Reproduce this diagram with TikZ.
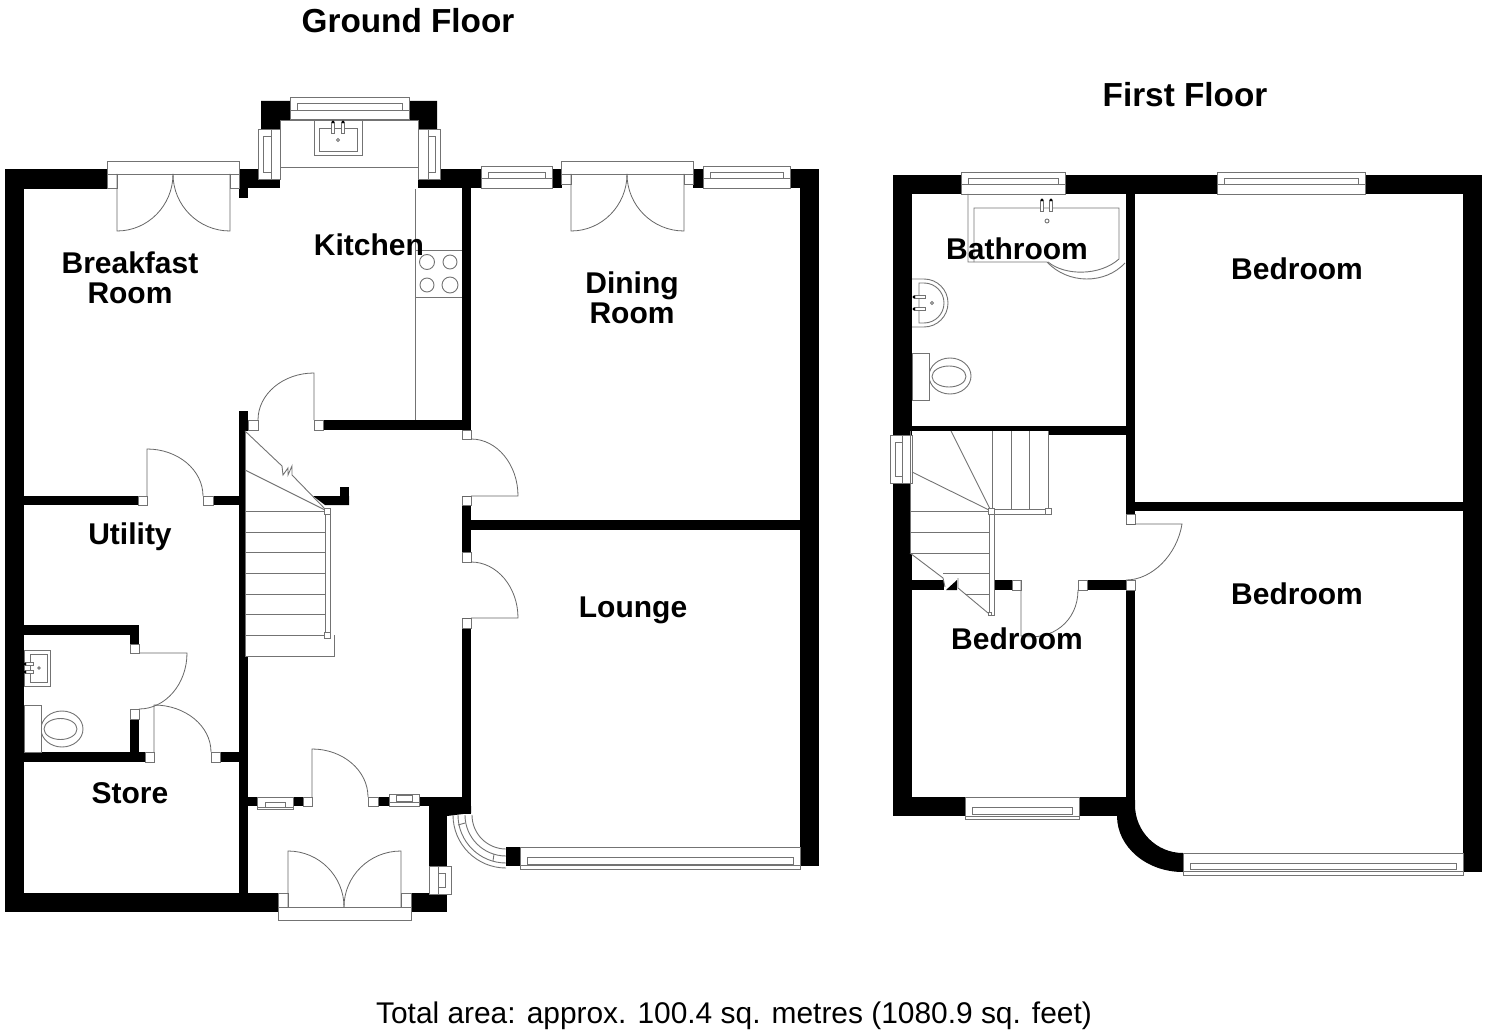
\documentclass[tikz,border=0pt]{standalone}
\usepackage{fontspec}
\setmainfont{Liberation Sans}
\usetikzlibrary{calc}

\begin{document}
\begin{tikzpicture}[x=1pt, y=-1pt,
    wall/.style={fill=black},
    fitting/.style={draw=black!55, line width=0.9pt},
    jamb/.style={fitting, fill=white},
    doorleaf/.style={draw=black!60, line width=0.8pt},
    roomlabel/.style={font=\bfseries\fontsize{30}{30}\selectfont, align=center, inner sep=0pt},
    floorlabel/.style={font=\bfseries\fontsize{33.3}{36}\selectfont, inner sep=0pt}]
    \useasboundingbox (0, 0) rectangle (1488, 1035);

    % ground floor walls
    \foreach \xa/\ya/\xb/\yb in {5/169/107/189, 5/169/24/912, 5/893/278/912, 411/893/447/912,
        239/169/258/188, 239/188/248/198, 258/179/280/188, 418/179/481/188, 440/169/481/188,
        552/169/562/188, 693/169/703/188, 790/169/819/188, 800/169/819/866,
        462/188/471/430, 323/420/471/430, 462/505/471/552, 471/520/800/530, 462/628/471/814,
        239/411/248/431, 239/431/245/656, 239/656/248/893,
        24/496/138/505, 213/496/239/505, 340/487/349/505,
        24/625/139/635, 130/625/139/644, 130/719/139/752, 24/752/145/762, 220/752/239/762,
        248/797/257/806, 293/797/303/806, 378/797/389/806, 419/797/471/806, 429/806/447/866, 506/847/520/866}
        \fill[wall] (\xa, \ya) rectangle (\xb, \yb);
    \fill[wall] (261, 101) -- (290, 101) -- (290, 120) -- (280, 120) -- (280, 129) -- (261, 129) -- cycle; % bay left
    \fill[wall] (409, 101) -- (437, 101) -- (437, 129) -- (418, 129) -- (418, 120) -- (409, 120) -- cycle; % bay right
    \fill[wall] (429, 806) -- (471, 806) -- (471, 813) -- (447, 816) -- (429, 816) -- cycle;
    \fill[wall] (313, 496) -- (349, 496) -- (349, 505) -- (325, 505) -- cycle; % stair end

    % first floor walls
    \foreach \xa/\ya/\xb/\yb in {893/175/961/194, 1065/175/1217/194, 1365/175/1482/194, 1463/175/1482/872,
        893/175/912/435, 893/483/910/553, 893/553/912/816, 912/426/1048/431, 1048/426/1126/435,
        1126/194/1135/514, 1135/502/1463/511, 912/580/944/590, 994/580/1012/590, 1087/580/1126/590,
        1126/590/1135/797, 912/797/965/816, 1079/797/1135/816}
        \fill[wall] (\xa, \ya) rectangle (\xb, \yb);
    \fill[wall] (946, 590) -- (957, 580) -- (957, 590) -- cycle;
    \fill[wall] (1117, 816) arc[start angle=180, end angle=90, x radius=66, y radius=56]
        -- (1183, 853) arc[start angle=90, end angle=180, x radius=48, y radius=48] -- (1135, 800) -- (1117, 800) -- cycle;

    % windows along a wall
    \foreach \xa/\ya/\xb/\yb/\sa/\sb/\lb/\dx in {290/97/409/119/103/110/110/7, 481/166/552/188/172/178/178/7,
        703/166/790/188/172/178/178/7, 961/172/1065/194/178/184/184/7, 1217/172/1365/194/178/184/184/7,
        965/797/1079/819/807/814/816/7, 520/847/800/869/857/864/865/7, 1183/853/1463/875/863/869/871/7,
        257/797/293/809/802/807/807/8, 389/794/419/806/795/801/802/7} {
        \draw[jamb] (\xa, \ya) rectangle (\xb, \yb);
        \draw[fitting] (\xa, \lb) -- (\xb, \lb);
        \draw[fitting] (\xa+\dx, \sa) rectangle (\xb-\dx, \sb);
    }
    % windows in the side walls
    \foreach \xa/\ya/\xb/\yb/\sa/\sb/\lb in {258/129/280/179/263/271/271, 418/129/440/179/428/435/428,
        890/435/912/483/895/902/902, 429/866/451/894/438/445/438} {
        \draw[jamb] (\xa, \ya) rectangle (\xb, \yb);
        \draw[fitting] (\lb, \ya) -- (\lb, \yb);
        \draw[fitting] (\sa, \ya+7) rectangle (\sb, \yb-7);
    }

    % curved window of the lounge
    \foreach \rr in {34, 41, 48, 53}
        \draw[fitting] (506-\rr, 815) arc[start angle=180, end angle=90, radius=\rr];
    \draw[fitting] (458, 825) -- (465, 823);
    \draw[fitting] (494, 854) -- (493, 861);

    % door jambs
    \foreach \xa/\ya/\xb/\yb in {107/161/239/174, 561/161/693/174, 278/907/411/920}
        \draw[jamb] (\xa, \ya) rectangle (\xb, \yb);
    \foreach \xa/\ya/\xb/\yb in {107/174/117/188, 230/174/239/188, 561/174/571/184, 684/174/693/184,
        278/893/288/907, 401/893/411/907, 248/420/258/430, 314/420/323/430, 462/430/471/439,
        462/496/471/505, 462/552/471/562, 462/618/471/628, 138/496/147/505, 203/496/213/505,
        130/644/139/653, 130/709/139/719, 145/752/154/762, 211/752/220/762, 303/797/312/806,
        368/797/378/806, 1012/580/1021/590, 1078/580/1087/590, 1126/580/1135/590, 1126/514/1135/524}
        \draw[jamb] (\xa, \ya) rectangle (\xb, \yb);

    % door leaves, hinge -- tip, then the swing
    \foreach \hx/\hy/\tx/\ty/\ex/\ey in {117/174/117/231/173/174, 230/174/230/231/173/174,
        571/174/571/231/627/174, 684/174/684/231/627/174, 314/420/314/373/258/420, 147/496/147/449/203/496,
        471/496/518/496/471/439, 471/618/518/618/471/562, 139/653/187/653/139/709, 154/752/154/705/211/752,
        312/797/312/749/368/797, 288/907/288/851/344/907, 401/907/401/851/344/907,
        1021/580/1021/636/1078/590, 1135/524/1182/524/1126/580} {
        \draw[doorleaf] (\hx, \hy) -- (\tx, \ty)
            .. controls ($(\tx, \ty)+0.5523*(\ex, \ey)-0.5523*(\hx, \hy)$)
            and ($(\ex, \ey)+0.5523*(\tx, \ty)-0.5523*(\hx, \hy)$) .. (\ex, \ey);
    }
    \draw[doorleaf] (462, 496) -- (471, 496);
    \draw[doorleaf] (462, 618) -- (471, 618);
    \draw[doorleaf] (1126, 524) -- (1135, 524);

    % kitchen units
    \draw[fitting] (280, 167) -- (418, 167); % under the sink
    \draw[fitting] (280, 120) -- (418, 120);
    \draw[fitting] (280, 120) -- (280, 129);
    \draw[fitting] (418, 120) -- (418, 129);
    \draw[fitting] (415, 189) -- (415, 420); % worktop
    \draw[fitting] (415, 250) -- (462, 250);
    \draw[fitting] (415, 297) -- (462, 297);
    \foreach \cx/\cy/\cr in {427/262/7.5, 450/262/7, 427/285/7, 450/285/8}
        \draw[fitting] (\cx, \cy) circle[radius=\cr];
    \draw[fitting] (314, 120) rectangle (362, 155);
    \draw[fitting] (319, 128) rectangle (357, 151);
    \foreach \tx in {333, 343} {
        \draw[fitting, fill=white] (\tx-1.5, 122) rectangle (\tx+1.5, 133);
        \fill (\tx, 122) circle[radius=1.6];
    }
    \draw[fitting] (338, 140) circle[radius=1.5];

    % stairs, ground floor
    \draw[fitting] (245, 431) -- (245, 656) -- (334, 656) -- (334, 635);
    \foreach \ty in {511, 532, 552.5, 573, 594, 614.5, 635}
        \draw[fitting] (245, \ty) -- (325, \ty);
    \draw[fitting] (245, 470) -- (327, 511);
    \draw[fitting] (245, 431) -- (282, 466) -- (283, 475) -- (288, 468) -- (288, 475) -- (292, 466) -- (292, 475) -- (327, 511);
    \draw[jamb] (325, 511) rectangle (330, 635);
    \draw[jamb] (324, 508) rectangle (330, 514);
    \draw[jamb] (324, 632) rectangle (330, 638);

    % wc
    \draw[fitting] (24, 650) rectangle (50, 686);
    \draw[fitting] (30, 654) rectangle (47, 682);
    \foreach \ty in {664, 672} {
        \draw[fitting, fill=white] (24, \ty-1.5) rectangle (33, \ty+1.5);
        \fill (25, \ty) circle[radius=1.6];
    }
    \draw[fitting] (39, 668) circle[radius=1.2];
    \draw[fitting] (24, 705) rectangle (41, 752);
    \draw[fitting] (62, 729) ellipse[x radius=21, y radius=18];
    \draw[fitting] (60.5, 729) ellipse[x radius=16.5, y radius=10.5];
    \fill[white] (30, 712) rectangle (40.5, 751);
    \draw[fitting] (41, 705) -- (41, 752);

    % bathroom
    \draw[fitting] (968, 194) -- (968, 262) -- (1047, 262) .. controls (1068, 284.5) and (1105, 284.5) .. (1125, 263);
    \draw[fitting] (974, 262) -- (974, 208) -- (1119, 208) -- (1119, 259) .. controls (1100, 276) and (1065, 276) .. (1048, 262);
    \foreach \tx in {1042, 1051} {
        \draw[fitting, fill=white] (\tx-1.5, 200) rectangle (\tx+1.5, 211);
        \fill (\tx, 200) circle[radius=1.6];
    }
    \draw[fitting] (1047, 221) circle[radius=2];
    \draw[fitting] (912, 279) -- (924, 279) arc[start angle=-90, end angle=90, radius=24] -- (912, 327);
    \draw[fitting] (919, 283) -- (924, 283) arc[start angle=-90, end angle=90, radius=20] -- (919, 323) -- cycle;
    \foreach \ty in {297, 309} {
        \draw[fitting, fill=white] (914, \ty-1.5) rectangle (925, \ty+1.5);
        \fill (914, \ty) circle[radius=1.6];
    }
    \draw[fitting] (932, 303) circle[radius=1.5];
    \draw[fitting] (950, 376) ellipse[x radius=21, y radius=18];
    \draw[fitting] (949, 376.5) ellipse[x radius=17, y radius=10.5];
    \draw[jamb] (912, 353) rectangle (929, 400);

    % stairs, first floor
    \foreach \tx in {992, 1011, 1029, 1048}
        \draw[fitting] (\tx, 431) -- (\tx, 511);
    \foreach \tx/\ty in {910/511, 910/532, 910/553, 943/573.5, 965/594}
        \draw[fitting] (\tx, \ty) -- (989, \ty);
    \draw[fitting] (910, 431) -- (910, 553);
    \draw[fitting] (951, 431) -- (991, 511);
    \draw[fitting] (912, 472) -- (991, 511);
    \draw[fitting] (910, 553) -- (943, 578) -- (945, 587);
    \draw[fitting] (958, 578) -- (958, 588) -- (988, 613);
    \draw[jamb] (989, 514) rectangle (994, 615);
    \draw[jamb] (994, 509) rectangle (1046, 514);
    \draw[jamb] (988, 508) rectangle (994, 514);
    \draw[jamb] (1045, 508) rectangle (1051, 514);
    \draw[jamb] (988, 612) rectangle (991, 615);

    % labels
    \node[floorlabel] (groundfloor) at (408, 21) {Ground Floor};
    \node[floorlabel] (firstfloor) at (1185, 95) {First Floor};
    \node[roomlabel] (breakfast) at (130, 278) {Breakfast\\Room};
    \node[roomlabel] (kitchen) at (369, 245) {Kitchen};
    \node[roomlabel] (dining) at (632, 298) {Dining\\Room};
    \node[roomlabel] (utility) at (130, 536.5) {Utility};
    \node[roomlabel] (store) at (130, 793) {Store};
    \node[roomlabel] (lounge) at (633, 610) {Lounge};
    \node[roomlabel] (bathroom) at (1017, 249) {Bathroom};
    \node[roomlabel] (bedrooma) at (1297, 269) {Bedroom};
    \node[roomlabel] (bedroomb) at (1297, 594) {Bedroom};
    \node[roomlabel] (bedroomc) at (1017, 639) {Bedroom};
    \node[font=\fontsize{29.9}{32}\selectfont, inner sep=0pt] (area) at (734, 1016) {Total area: approx. 100.4 sq. metres (1080.9 sq. feet)};
\end{tikzpicture}
\end{document}
